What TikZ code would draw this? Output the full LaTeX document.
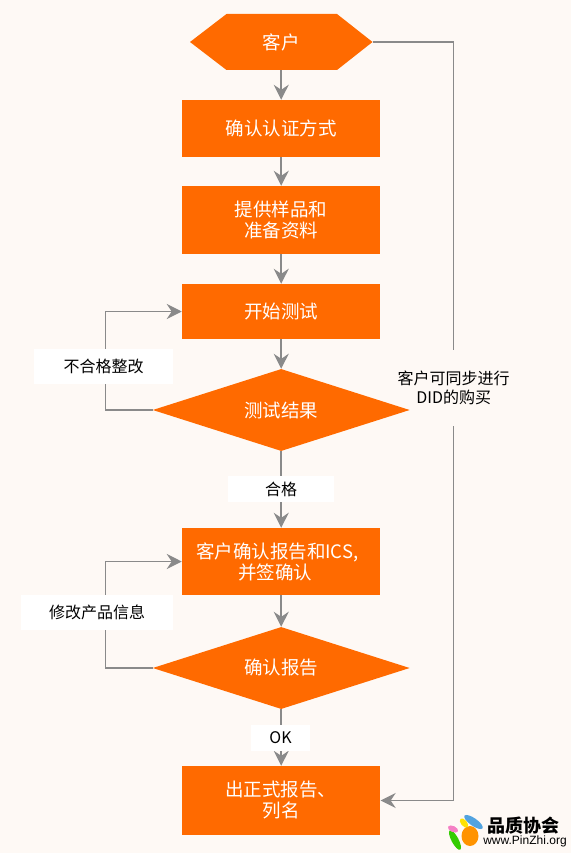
\documentclass[tikz,border=0pt]{standalone}
\usepackage{fontspec}
\setmainfont{Noto Sans CJK SC}
\newfontfamily\latinfont{Liberation Sans}
\usetikzlibrary{shapes.geometric,arrows.meta,calc}
\definecolor{bgc}{HTML}{FEF9F5}
\definecolor{org}{HTML}{FF6A00}
\definecolor{lin}{HTML}{8A8A8A}
\tikzset{
  x=1pt,y=-1pt,
  box/.style={fill=org,text=white,minimum width=198.5pt,inner sep=0pt,align=center,font=\fontsize{18.5}{21}\selectfont},
  dia/.style={diamond,fill=org,text=white,minimum width=257pt,minimum height=82pt,aspect=3.13,inner sep=0pt,font=\fontsize{18.5}{21}\selectfont},
  lab/.style={fill=white,text=black,inner sep=0pt,align=center,font=\fontsize{16}{19}\selectfont},
  conn/.style={draw=lin,line width=1.5pt,-{Stealth[length=15pt,width=15pt,inset=5pt]}},
  plain/.style={draw=lin,line width=1.5pt},
}
\begin{document}
\begin{tikzpicture}
\useasboundingbox (0,0) rectangle (571,853);
\fill[bgc] (0,0) rectangle (571,853);
% hexagon
\fill[org] (190,42) -- (226.5,14) -- (337,14) -- (372.5,42) -- (337,70) -- (226.5,70) -- cycle;
\node[text=white,minimum width=182.5pt,minimum height=56pt,inner sep=0pt,font=\fontsize{18.5}{21}\selectfont] (hex) at (281.2,42) {客户};
\node[box,minimum height=57pt] (r1) at (281.2,128.5) {确认认证方式};
\node[box,minimum height=68pt] (r2) at (281.2,220) {提供样品和\\准备资料};
\node[box,minimum height=55pt] (r3) at (281.2,311.5) {开始测试};
\node[dia] (d1) at (281.2,410) {测试结果};
\node[box,minimum height=67pt] (r4) at (281.2,561.5) {客户确认报告和ICS,\rule{8pt}{0pt}\\并签确认\rule{12pt}{0pt}};
\node[dia] (d2) at (281.2,668) {确认报告};
\node[box,minimum height=69pt] (r5) at (281.2,800.5) {出正式报告、\rule{1pt}{0pt}\\列名};
\coordinate (rt) at (453.7,42);
\coordinate (lt1) at (105.6,311.5);
\coordinate (lt2) at (105.6,561.5);
% right-hand label, sits in a gap of its connector
\node[inner sep=0pt,text=black,align=center,font=\fontsize{16}{19}\selectfont,minimum width=112pt,minimum height=76pt] (l5) at (453.7,388) {客户可同步进行\\DID的购买};
% connectors
\draw[conn] (hex.south) -- (r1.north);
\draw[conn] (r1.south) -- (r2.north);
\draw[conn] (r2.south) -- (r3.north);
\draw[conn] (r3.south) -- (d1.north);
\draw[conn] (d1.south) -- (r4.north);
\draw[conn] (r4.south) -- (d2.north);
\draw[conn] (d2.south) -- (r5.north);
\draw[conn] (d1.west) -| (lt1) -- (r3.west);
\draw[conn] (d2.west) -| (lt2) -- (r4.west);
\draw[plain] (hex.east) -- (rt) -- (l5.north);
\draw[conn] (l5.south) |- (r5.east);
% labels
\node[lab,minimum width=139.5pt,minimum height=35pt] (l1) at (103.5,366.5) {不合格整改};
\node[lab,minimum width=106pt,minimum height=26pt] (l2) at (281,489) {合格};
\node[lab,minimum width=152pt,minimum height=35pt] (l3) at (97,612.5) {修改产品信息};
\node[lab,minimum width=59.5pt,minimum height=26pt] (l4) at (280.5,738) {OK};
% logo
\fill[green!60!olive] (455,840) [rotate around={-62:(455,840)}] ellipse [x radius=11pt,y radius=3.5pt];
\fill[orange!85!yellow] (470,836) ellipse [x radius=8.5pt,y radius=10pt];
\fill[cyan!70!blue!70] (473.5,822) [rotate around={-35:(473.5,822)}] ellipse [x radius=11pt,y radius=3.8pt];
\fill[yellow!85!orange] (464,823) [rotate around={-50:(464,823)}] ellipse [x radius=5.5pt,y radius=3pt];
\fill[magenta!50] (453,829) [rotate around={-25:(453,829)}] ellipse [x radius=5.5pt,y radius=3pt];
\node[inner sep=0pt,text=black,font=\fontsize{18}{18}\bfseries\selectfont] (lg1) at (523.5,826) {品质协会};
\node[inner sep=0pt,text=black,font=\latinfont\fontsize{12}{12}\selectfont] (lg2) at (525,841.5) {www.PinZhi.org};
\end{tikzpicture}
\end{document}
